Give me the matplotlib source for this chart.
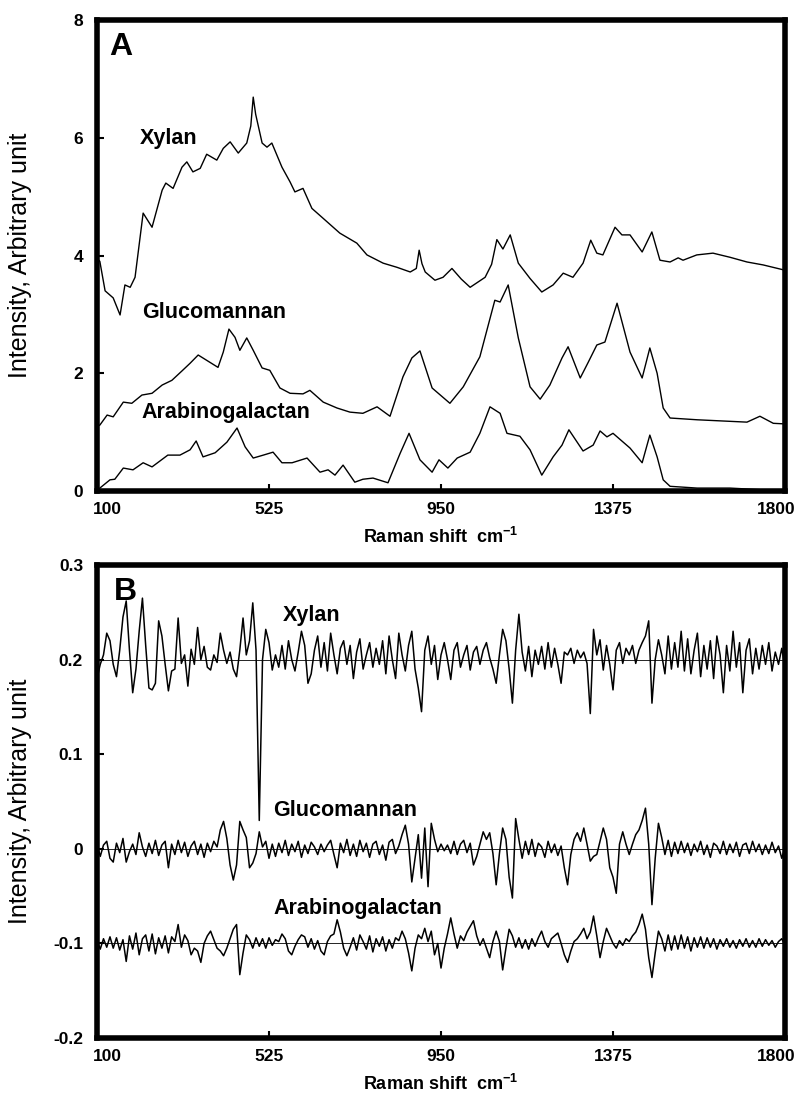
import numpy as np
import matplotlib
matplotlib.use("Agg")
from matplotlib import pyplot as plt
from matplotlib.transforms import ScaledTranslation

plt.rcParams["font.family"] = ["Liberation Sans", "DejaVu Sans"]
plt.rcParams["mathtext.fontset"] = "custom"
plt.rcParams["mathtext.rm"] = "Liberation Sans"
plt.rcParams["mathtext.bf"] = "Liberation Sans:bold"

# --- panel A: raw spectra (Raman shift cm-1, intensity) ---
xylan_x = [100, 107, 120, 140, 157, 169, 182, 194, 214, 236, 261, 270, 288, 310, 322, 337, 355, 371,
           396, 412, 429, 449, 470, 480, 486, 492, 508, 520, 532, 557, 577, 589, 609, 631, 659, 700,
           742, 767, 807, 841, 874, 889, 896, 903, 911, 935, 955, 977, 1000, 1022, 1059, 1075, 1088,
           1103, 1121, 1141, 1170, 1199, 1227, 1252, 1276, 1301, 1320, 1335, 1350, 1380, 1397, 1417,
           1447, 1471, 1491, 1516, 1536, 1548, 1582, 1622, 1664, 1706, 1746, 1800]
xylan_y = [3.95, 3.90, 3.40, 3.28, 2.99, 3.50, 3.46, 3.63, 4.72, 4.48, 5.11, 5.23, 5.14, 5.50, 5.59,
           5.42, 5.48, 5.72, 5.62, 5.82, 5.93, 5.74, 5.91, 6.20, 6.69, 6.40, 5.91, 5.84, 5.91, 5.50,
           5.25, 5.08, 5.14, 4.80, 4.63, 4.38, 4.21, 4.01, 3.87, 3.80, 3.72, 3.78, 4.09, 3.86, 3.72,
           3.58, 3.63, 3.78, 3.60, 3.46, 3.63, 3.85, 4.27, 4.11, 4.35, 3.87, 3.61, 3.38, 3.50, 3.70,
           3.63, 3.87, 4.26, 4.04, 4.01, 4.48, 4.35, 4.35, 4.06, 4.40, 3.92, 3.89, 3.96, 3.92, 4.01,
           4.04, 3.97, 3.89, 3.84, 3.75]

gluco_x = [100, 107, 125, 140, 165, 186, 211, 236, 261, 285, 310, 330, 350, 371, 399, 412, 426, 441,
           453, 470, 486, 508, 527, 552, 577, 609, 626, 659, 693, 725, 757, 792, 824, 856, 878, 898,
           928, 950, 972, 1005, 1046, 1083, 1096, 1116, 1141, 1170, 1195, 1219, 1249, 1264, 1294,
           1314, 1335, 1355, 1385, 1417, 1447, 1466, 1484, 1499, 1516, 1583, 1706, 1738, 1771, 1800]
gluco_y = [1.10, 1.12, 1.29, 1.26, 1.51, 1.49, 1.63, 1.66, 1.80, 1.88, 2.04, 2.17, 2.31, 2.22, 2.10,
           2.36, 2.75, 2.61, 2.39, 2.60, 2.39, 2.09, 2.05, 1.75, 1.66, 1.65, 1.71, 1.51, 1.41, 1.34,
           1.32, 1.43, 1.27, 1.94, 2.26, 2.38, 1.75, 1.62, 1.49, 1.77, 2.28, 3.24, 3.21, 3.50, 2.60,
           1.77, 1.56, 1.80, 2.26, 2.45, 1.92, 2.19, 2.48, 2.53, 3.19, 2.36, 1.92, 2.43, 2.00, 1.41,
           1.24, 1.21, 1.17, 1.27, 1.15, 1.14]

arabino_x = [100, 107, 132, 144, 165, 189, 214, 236, 275, 305, 330, 345, 362, 392, 421, 446, 466, 486,
             511, 535, 557, 582, 619, 651, 671, 688, 708, 737, 757, 782, 819, 849, 871, 898, 928, 945,
             967, 990, 1022, 1046, 1071, 1096, 1113, 1145, 1170, 1199, 1227, 1249, 1266, 1301, 1326,
             1343, 1360, 1375, 1417, 1447, 1466, 1484, 1499, 1516, 1583, 1664, 1800]
arabino_y = [0.02, 0.05, 0.19, 0.20, 0.39, 0.36, 0.48, 0.41, 0.61, 0.61, 0.70, 0.85, 0.58, 0.65, 0.83,
             1.07, 0.75, 0.56, 0.61, 0.66, 0.48, 0.48, 0.56, 0.32, 0.36, 0.27, 0.44, 0.15, 0.20, 0.22,
             0.14, 0.64, 0.98, 0.53, 0.32, 0.53, 0.39, 0.56, 0.66, 0.98, 1.43, 1.32, 0.98, 0.93, 0.70,
             0.27, 0.58, 0.78, 1.04, 0.68, 0.78, 1.02, 0.92, 0.98, 0.73, 0.48, 0.95, 0.58, 0.19, 0.08,
             0.05, 0.05, 0.00]

# --- panel B: residuals, x1e-3, sampled every ~8 cm-1 from 100 to 1800 ---
baselines = [0.2, 0.0, -0.1]

xylan_res = [-20, -5, 5, 28, 20, -5, -18, 10, 45, 62, 10, -35, -10, 30, 65, 15, -30, -32, -25, 41,
             25, -5, -33, -12, -10, 44, -4, 5, -28, 11, -5, 34, 0, 14, -8, -11, 5, -3, 28, 10,
             -4, 8, -10, -18, 10, 44, 5, 20, 60, 10, -170, 0, 32, 18, -11, 5, -8, 15, -10, 20,
             0, -12, 8, 30, 15, -25, -15, 10, 25, -8, 18, -12, 28, 5, -15, 12, 20, -5, 15, -20,
             8, 22, -10, 5, 18, -8, 12, -5, 20, -15, 25, 0, -20, 28, 5, -12, 15, 30, -10, -30,
             -55, 10, 25, -5, 15, -21, 5, 18, 0, -21, 10, 18, -8, 5, 15, -11, 8, 14, -5, 10,
             18, 2, -10, -25, 5, 32, 20, -10, -46, 10, 48, 8, -12, 14, -18, 10, -5, 14, -10, 18,
             -8, 12, -5, -25, 8, 5, 12, -4, 10, 2, 8, -4, -57, 32, 5, 21, -11, 15, -5, -32,
             10, 18, -4, 12, 5, 15, -4, 10, 18, 25, 41, -46, 0, 21, 5, -15, 25, -10, 18, -8,
             30, -12, 22, -15, 10, 28, -18, 15, -10, 20, -20, 25, 5, -35, 15, -12, 30, -8, 18, -35,
             10, 22, -15, 12, -10, 15, -5, 18, -12, 8, -5, 12, -8]

gluco_res = [5, -8, 4, 8, -10, -14, 6, -4, 11, -14, -3, 5, -6, 17, 2, -8, 6, -5, 9, -7,
             4, 8, -20, 5, -6, 9, -4, 7, -8, 3, 8, -6, 5, -9, 6, -3, 8, 2, 20, 29,
             11, -17, -33, -17, 29, 20, 12, -20, -15, -5, 18, 2, 8, -10, 5, -8, 6, -4, 9, -7,
             5, -3, 8, -9, 4, -5, 7, 2, -6, 5, -3, 4, 9, -6, -20, 6, -4, 10, -7, 5,
             -8, 9, -3, 6, -9, 5, 8, -6, 4, -12, 7, 10, -5, 3, 15, 25, 5, -35, -10, 15,
             -31, 22, -40, 27, 10, -3, 5, -2, 4, -5, 8, -6, 5, 9, -4, 6, -17, -8, 5, 18,
             10, 17, -5, -38, -5, 22, 10, -30, -52, 32, 10, -10, 8, -6, 10, -8, 6, 2, -9, 8,
             -4, 5, -7, 3, -20, -38, -6, 10, 17, 8, 22, 5, -13, -8, -6, 8, 22, 10, -20, -30,
             -47, 5, 18, 5, -6, 5, 15, 20, 30, 43, 5, -59, -10, 27, 12, -6, 9, -8, 7, -5,
             8, -4, 6, -7, 5, -3, 8, -6, 4, -9, 6, 3, -5, 8, -6, 5, -4, 7, -8, 4,
             6, -5, 8, -3, 5, -6, 4, -5, 7, -4, 3, -10, 2]

arabino_res = [3, -6, 5, -4, 7, -5, 6, -7, 4, -19, 8, -6, 11, -12, 5, 9, -8, 10, -11, 6,
               -5, 8, -10, 7, 2, 20, -4, 9, 3, -12, -5, -8, -20, 0, 8, 13, 4, -5, -8, -13,
               -5, 5, 15, 20, -33, -10, 9, 4, -5, 6, -3, 5, -5, 6, -2, 4, 2, 10, 5, -8,
               -12, -3, 4, 9, 7, -4, 5, -6, 3, -8, -12, 2, 8, 10, 25, 12, -5, -13, -4, 6,
               -7, 9, 2, -6, 8, -9, 5, -3, 7, -8, 4, -5, 6, 3, 13, 5, -10, -29, -5, 9,
               5, 16, 2, 13, -12, 0, -26, -5, 10, 27, 10, -5, 8, 3, 12, 18, 24, 8, -2, 5,
               -5, -15, 2, 13, 2, -28, -5, 15, 8, -4, 6, -5, 4, -6, 5, -3, 6, 13, 2, -4,
               5, 8, 11, 0, -12, -20, -8, 2, 5, 10, 16, 5, 12, 29, 8, -15, 2, 16, 8, 0,
               -5, 3, -2, 5, 2, 8, 12, 20, 31, 15, -15, -36, -10, 13, 5, -8, 9, -7, 8, -6,
               9, -5, 7, -8, 6, -4, 7, -5, 6, -4, 5, -6, 4, -3, 5, -4, 3, -5, 4, -3,
               5, -4, 3, -4, 5, -3, 4, -2, 3, -4, 2, 5, -2]

names = ["Xylan", "Glucomannan", "Arabinogalactan"]
ticks_x = [100, 525, 950, 1375, 1800]

fig = plt.figure(figsize=(8.03, 10.98), dpi=100)
axA = fig.add_axes([0.1208, 0.5528, 0.8568, 0.429])
axB = fig.add_axes([0.1208, 0.0546, 0.8568, 0.4308])

axA.plot(xylan_x, xylan_y, color="black", lw=1.0)
axA.plot(gluco_x, gluco_y, color="black", lw=1.0)
axA.plot(arabino_x, arabino_y, color="black", lw=1.0)
axA.set_ylim(0, 8)
axA.set_yticks([0, 2, 4, 6, 8])
axA.set_yticklabels(["0", "2", "4", "6", "8"])

label_pos_A = [(206, 5.99), (211, 3.04), (211, 1.34)]
for name, (lx, ly) in zip(names, label_pos_A):
    axA.text(lx, ly, name, fontsize=15.5, fontweight="bold", ha="left", va="center")
axA.text(0.018, 0.975, "A", transform=axA.transAxes, fontsize=23, fontweight="bold",
         ha="left", va="top")

for res, base in zip([xylan_res, gluco_res, arabino_res], baselines):
    xs = np.linspace(100, 1800, len(res))
    axB.axhline(base, color="black", lw=0.6)
    axB.plot(xs, base + np.array(res) / 1000.0, color="black", lw=1.1)
axB.set_ylim(-0.2, 0.3)
axB.set_yticks([-0.2, -0.1, 0, 0.1, 0.2, 0.3])
axB.set_yticklabels(["-0.2", "-0.1", "0", "0.1", "0.2", "0.3"])

label_pos_B = [(560, 0.247), (535, 0.041), (535, -0.063)]
for name, (lx, ly) in zip(names, label_pos_B):
    axB.text(lx, ly, name, fontsize=15.5, fontweight="bold", ha="left", va="center")
axB.text(0.025, 0.975, "B", transform=axB.transAxes, fontsize=23, fontweight="bold",
         ha="left", va="top")

for ax in [axA, axB]:
    ax.set_xlim(100, 1800)
    ax.set_xticks(ticks_x)
    ax.set_xticklabels([str(t) for t in ticks_x])
    for s in ax.spines.values():
        s.set_linewidth(4)
    ax.tick_params(direction="in", length=5, width=1.5, labelsize=12.5, pad=8)
    ax.tick_params(axis="y", pad=10)
    for lab in ax.get_xticklabels() + ax.get_yticklabels():
        lab.set_fontweight("bold")
    xl = ax.get_xticklabels()
    xl[0].set_transform(xl[0].get_transform() + ScaledTranslation(10 / 100, 0, fig.dpi_scale_trans))
    xl[-1].set_transform(xl[-1].get_transform() + ScaledTranslation(-9 / 100, 0, fig.dpi_scale_trans))
    ax.set_xlabel(r"Raman shift  cm$^{\mathbf{-1}}$", fontsize=13, fontweight="bold", labelpad=7)
    ax.set_ylabel("Intensity, Arbitrary unit", fontsize=18)
    ax.yaxis.set_label_coords(-0.095, 0.5)

fig.savefig("out.png", dpi=100)
